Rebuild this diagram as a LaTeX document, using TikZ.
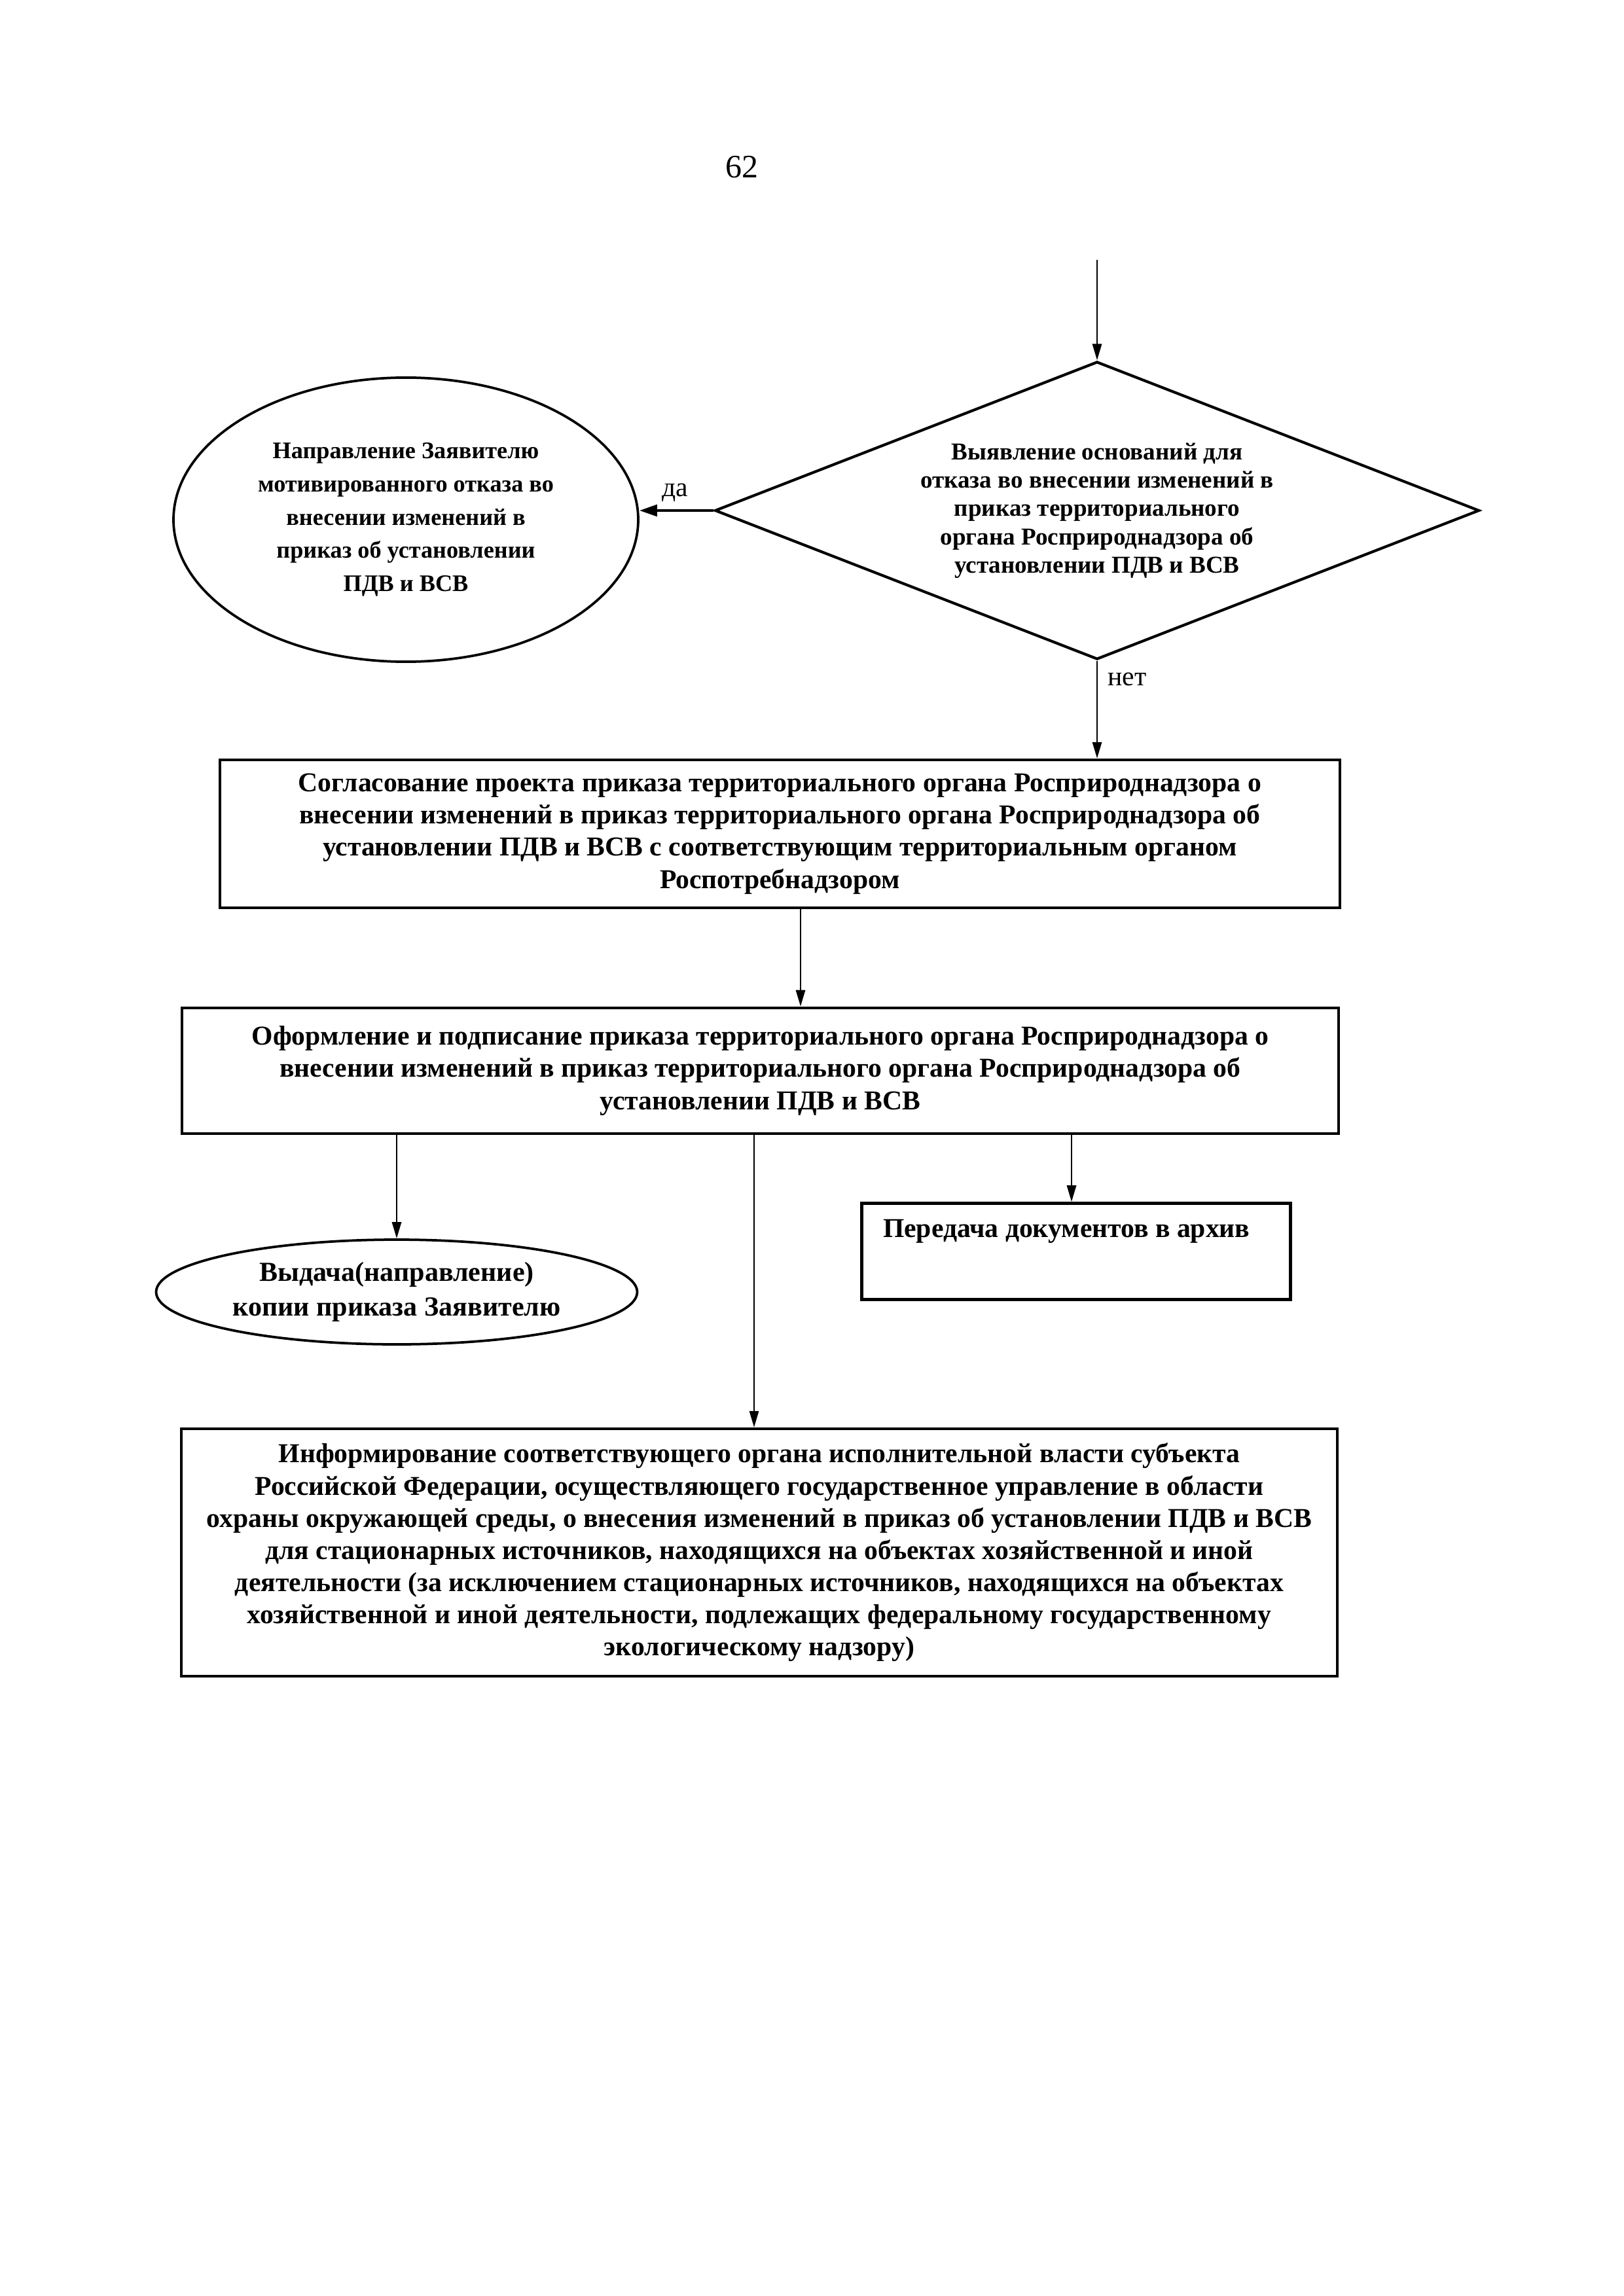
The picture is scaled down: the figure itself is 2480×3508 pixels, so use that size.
\documentclass[tikz,border=0pt]{standalone}
\usepackage{fontspec}
\setmainfont{Liberation Serif}
\usetikzlibrary{shapes.geometric,arrows.meta,calc}
\begin{document}
\begin{tikzpicture}[x=0.24pt,y=-0.24pt,
  boxnode/.style={draw,line width=1.1pt,rectangle,inner sep=0pt,align=center,font=\bfseries\fontsize{10}{11.8}\selectfont},
  ellnode/.style={draw,line width=0.9pt,ellipse,inner sep=0pt,align=center,font=\bfseries\fontsize{8.7}{12.2}\selectfont},
  dianode/.style={draw,line width=1pt,diamond,shape aspect=2.57,inner sep=0pt,align=center,font=\bfseries\fontsize{8.9}{10.4}\selectfont},
  arr/.style={line width=0.6pt,-{Triangle[length=6pt,width=3.4pt]}},
  arrb/.style={line width=1pt,-{Triangle[length=6.5pt,width=4.2pt]}},
  lbl/.style={font=\fontsize{10}{12}\selectfont,inner sep=0pt}]
\fill[white] (0,0) rectangle (2480,3508);
\useasboundingbox (0,0) rectangle (2480,3508);

\node[font=\fontsize{12}{14}\selectfont,inner sep=0pt] (pg) at (1133,255) {62};

\coordinate (top) at (1676,397);
\node[dianode,minimum width=280.3pt,minimum height=109.2pt] (dia) at (1676,780)
  {Выявление оснований для\\отказа во внесении изменений в\\приказ территориального\\органа Росприроднадзора об\\установлении ПДВ и ВСВ};
\node[ellnode,minimum width=170.4pt,minimum height=104.2pt] (e1) at (620,794)
  {Направление Заявителю\\мотивированного отказа во\\внесении изменений в\\приказ об установлении\\ПДВ и ВСВ};

\node[boxnode,minimum width=410.6pt,minimum height=54.2pt] (b1) at (1191.5,1274)
  {Согласование проекта приказа территориального органа Росприроднадзора о\\внесении изменений в приказ территориального органа Росприроднадзора об\\установлении ПДВ и ВСВ с соответствующим территориальным органом\\Роспотребнадзором};
\node[boxnode,minimum width=424.1pt,minimum height=46.1pt] (b2) at (1161.5,1636)
  {Оформление и подписание приказа территориального органа Росприроднадзора о\\внесении изменений в приказ территориального органа Росприроднадзора об\\установлении ПДВ и ВСВ};
\node[ellnode,font=\bfseries\fontsize{10.1}{12.8}\selectfont,minimum width=176.4pt,minimum height=38.4pt] (e2) at (606,1974)
  {Выдача(направление)\\копии приказа Заявителю};
\node[boxnode,minimum width=157.2pt,minimum height=35.3pt] (b3) at (1644,1912) {};
\node[font=\bfseries\fontsize{10}{11.8}\selectfont,inner sep=0pt,anchor=west] (t3) at ($(b3.north west)+(34,45)$) {Передача документов в архив};
\node[boxnode,minimum width=423.8pt,minimum height=90.7pt] (b4) at (1160,2372)
  {Информирование соответствующего органа исполнительной власти субъекта\\Российской Федерации, осуществляющего государственное управление в области\\охраны окружающей среды, о внесения изменений в приказ об установлении ПДВ и ВСВ\\для стационарных источников, находящихся на объектах хозяйственной и иной\\деятельности (за исключением стационарных источников, находящихся на объектах\\хозяйственной и иной деятельности, подлежащих федеральному государственному\\экологическому надзору)};

\coordinate (xa) at (1223,0);
\coordinate (xm) at (1152,0);
\coordinate (xr) at (1637,0);

\draw[arr] (top) -- (dia.north);
\draw[arrb] (dia.west) -- (dia.west -| e1.east);
\node[lbl] (da) at (1031,753) {да};
\draw[arr] (dia.south) -- (dia.south |- b1.north);
\node[lbl] (net) at (1722,1038) {нет};
\draw[arr] (b1.south -| xa) -- (b2.north -| xa);
\draw[arr] (e2.north |- b2.south) -- (e2.north);
\draw[arr] (b2.south -| xm) -- (b4.north -| xm);
\draw[arr] (b2.south -| xr) -- (b3.north -| xr);
\end{tikzpicture}
\end{document}
